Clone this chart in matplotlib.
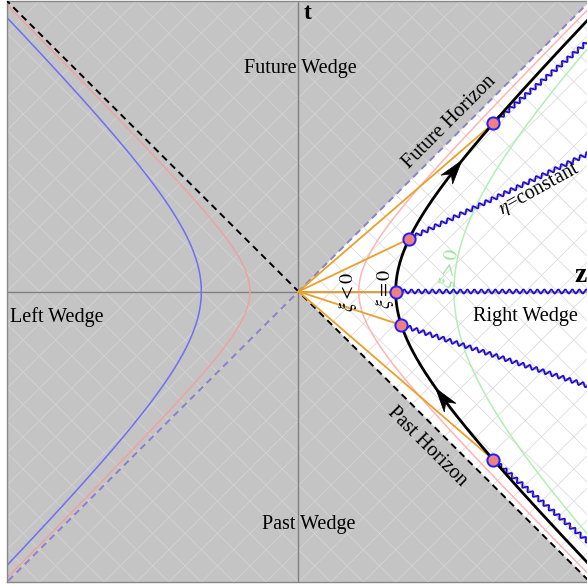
import numpy as np
import matplotlib
matplotlib.use("Agg")
import matplotlib.pyplot as plt
from matplotlib.patches import Polygon

plt.rcParams['font.family'] = ['Liberation Serif', 'DejaVu Serif']
plt.rcParams['mathtext.fontset'] = 'stix'

# Diagram extent and light-cone grid spacing
LIM = 3.0
grid_step = 1.0 / 3.0

# Uniformly accelerated observer: z^2 - t^2 = traj_a^2
traj_a = 1.0
# Other constant-xi hyperbolae in the right wedge
xi_neg_a = 0.62
xi_pos_a = 1.6
# Mirror hyperbolae in the left wedge
left_blue_a = 1.0
left_pink_a = 0.5
# Rapidities (eta) of the marked events on the trajectory
event_etas = [1.32, 0.52, 0.0, -0.34, -1.32]
# Rapidities where direction arrows sit on the trajectory
arrow_etas = [1.05, -0.95]

# Wave decoration for eta = const rays (data units)
wave_len = 0.072
wave_amp = 0.021

fig = plt.figure(figsize=(5.87, 5.88), dpi=100)
ax = fig.add_axes([7 / 587, 6 / 588, 583 / 587, 581 / 588])
ax.set_xlim(-LIM, LIM)
ax.set_ylim(-LIM, LIM)
ax.set_facecolor('#c4c4c4')
ax.set_xticks([])
ax.set_yticks([])
for s in ax.spines.values():
    s.set_color('#888888')
    s.set_linewidth(1.0)

# Right Rindler wedge is left unshaded
ax.add_patch(Polygon([[0, 0], [6, 6], [6, -6]], closed=True,
                     facecolor='white', edgecolor='none', zorder=0.5))

# Light-cone grid: lines of constant t+z and t-z
zz = np.array([-5.0, 5.0])
for k in range(-30, 31):
    u = k * grid_step
    ax.plot(zz, u - zz, color='#d6d6d6', lw=0.5, zorder=1)
    ax.plot(zz, u + zz, color='#d6d6d6', lw=0.5, zorder=1)

# Coordinate axes
ax.axhline(0, color='#808080', lw=1.0, zorder=1.5)
ax.axvline(0, color='#808080', lw=1.0, zorder=1.5)

eta = np.linspace(-3.2, 3.2, 800)

# Left wedge hyperbolae
ax.plot(-left_blue_a * np.cosh(eta), left_blue_a * np.sinh(eta), color='#6e6ef5', lw=1.1, zorder=2)
ax.plot(-left_pink_a * np.cosh(eta), left_pink_a * np.sinh(eta), color='#f0a0a0', lw=1.0, zorder=2)

# Right wedge constant-xi hyperbolae
ax.plot(xi_neg_a * np.cosh(eta), xi_neg_a * np.sinh(eta), color='#ffb4b4', lw=1.1, zorder=2)
ax.plot(xi_pos_a * np.cosh(eta), xi_pos_a * np.sinh(eta), color='#b0f0b0', lw=1.1, zorder=2)

# Horizons
ax.plot([-LIM - 1, LIM + 1], [LIM + 1, -LIM - 1], color='black', lw=1.4,
        ls=(0, (3.5, 2.5)), zorder=3)
ax.plot([-LIM - 1, LIM + 1], [-LIM - 1, LIM + 1], color='#8c80c8', lw=1.4,
        ls=(0, (3.5, 2.5)), zorder=3)

# Constant-eta rays from the origin through each event, with wavy tails
for e in event_etas:
    d = np.array([np.cosh(e), np.sinh(e)])
    r = np.array([0.0, 8.0])
    ax.plot(r * d[0], r * d[1], color='#e8a02a', lw=1.3, zorder=3.5)
    p0 = traj_a * d
    dn = d / np.hypot(*d)
    nrm = np.array([-dn[1], dn[0]])
    s = np.linspace(0, 6, 6000)
    w = wave_amp * np.sin(2 * np.pi * s / wave_len)
    ax.plot(p0[0] + s * dn[0] + w * nrm[0], p0[1] + s * dn[1] + w * nrm[1],
            color='#0a0aff', lw=1.2, zorder=4, solid_joinstyle='round')

# Accelerated trajectory
ax.plot(traj_a * np.cosh(eta), traj_a * np.sinh(eta), color='black', lw=2.0, zorder=5)

# Direction arrows on the trajectory
L, W = 0.25, 0.15
for e in arrow_etas:
    pos = traj_a * np.array([np.cosh(e), np.sinh(e)])
    tg = np.array([np.sinh(e), np.cosh(e)])
    tg = tg / np.hypot(*tg)
    nm = np.array([-tg[1], tg[0]])
    tip = pos + 0.5 * L * tg
    back = pos - 0.5 * L * tg
    notch = back + 0.3 * L * tg
    ax.add_patch(Polygon([tip, back + 0.5 * W * nm, notch, back - 0.5 * W * nm],
                         closed=True, facecolor='black', edgecolor='black',
                         lw=0.5, zorder=5.5))

# Marked events
ev = np.array(event_etas)
ax.plot(traj_a * np.cosh(ev), traj_a * np.sinh(ev), 'o', ms=8.8,
        mfc='#f08080', mec='#1e1eff', mew=1.4, zorder=6)

# Labels
fs = 14.5
ax.text(0.015, 2.30, 'Future Wedge', fontsize=fs, ha='center', va='center', zorder=7)
ax.text(-2.485, -0.263, 'Left Wedge', fontsize=fs, ha='center', va='center', zorder=7)
ax.text(2.336, -0.263, 'Right Wedge', fontsize=fs, ha='center', va='center', zorder=7)
ax.text(0.108, -2.41, 'Past Wedge', fontsize=fs, ha='center', va='center', zorder=7)
ax.text(0.093, 2.87, 't', fontsize=17, fontweight='bold', ha='center', va='center', zorder=7)
ax.text(2.90, 0.17, 'z', fontsize=20, fontweight='bold', ha='center', va='center', zorder=7)
ax.text(1.55, 1.75, 'Future Horizon', fontsize=fs, rotation=45,
        ha='center', va='center', rotation_mode='anchor', zorder=7)
ax.text(1.32, -1.606, 'Past Horizon', fontsize=fs, rotation=-45,
        ha='center', va='center', rotation_mode='anchor', zorder=7)
ax.text(2.476, 1.05, r'$\eta$=constant', fontsize=fs, rotation=29,
        ha='center', va='center', rotation_mode='anchor', zorder=7)
ax.text(0.88, 0.03, r'$\xi=0$', fontsize=fs, rotation=90,
        ha='center', va='center', rotation_mode='anchor', zorder=7)
ax.text(0.50, 0.0, r'$\xi<0$', fontsize=fs, rotation=90,
        ha='center', va='center', rotation_mode='anchor', zorder=7)
ax.text(1.55, 0.24, r'$\xi>0$', fontsize=fs, rotation=80, color='#98e498',
        ha='center', va='center', rotation_mode='anchor', zorder=7)

fig.savefig('out.png', dpi=100)
